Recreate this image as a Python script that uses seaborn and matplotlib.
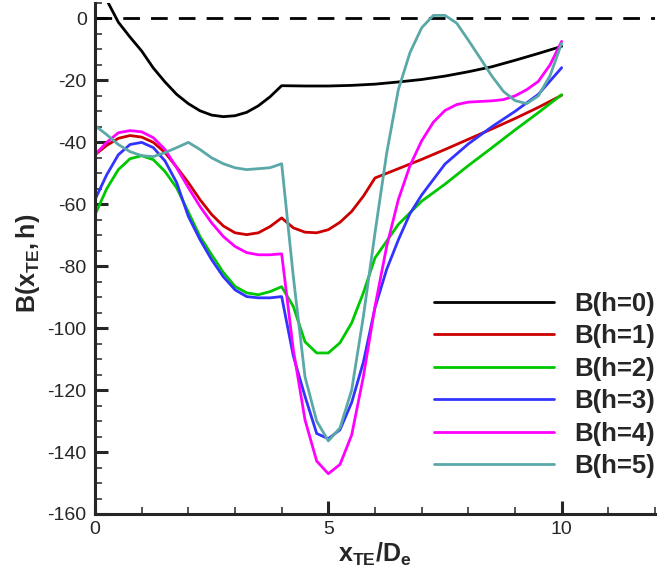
import numpy as np
import pandas as pd
import matplotlib
matplotlib.use("Agg")
import matplotlib.pyplot as plt
from matplotlib.ticker import MultipleLocator
import seaborn as sns

# x positions (x_TE / D_e)
x_grid = [0, 0.25, 0.5, 0.75, 1.0, 1.25, 1.5, 1.75, 2.0, 2.25, 2.5, 2.75, 3.0,
          3.25, 3.5, 3.75, 4.0]
x_near = [4.25, 4.5, 4.75, 5.0, 5.25, 5.5, 5.75, 6.0]

x_h0 = x_grid + [4.5, 5.0, 5.5, 6.0, 6.5, 7.0, 7.5, 8.0, 8.5, 9.0, 9.5, 10.0]
b_h0 = [15, 6, -1.2, -6, -10.5, -16, -20.5, -24.5, -27.5, -29.8, -31.2, -31.7,
        -31.4, -30.3, -28.2, -25.3, -21.7,
        -21.8, -21.8, -21.6, -21.2, -20.5, -19.7, -18.6, -17.2, -15.6, -13.5,
        -11.3, -9.0]

x_h1 = x_grid + x_near + [6.5, 7.0, 7.5, 8.0, 8.5, 9.0, 9.5, 10.0]
b_h1 = [-44, -41, -38.7, -37.8, -38.3, -40, -43.3, -48, -53, -58.5, -63.3, -67,
        -69.2, -69.8, -69.2, -67.2, -64.4,
        -67.6, -69, -69.2, -68.2, -65.8, -62.3, -57.4, -51.5,
        -48.5, -45.5, -42.3, -39, -35.7, -32.3, -28.7, -24.8]

x_h2 = x_grid + x_near + [6.5, 7.0, 7.5, 8.0, 8.5, 9.0, 9.5, 10.0]
b_h2 = [-63.4, -55, -48.8, -45.3, -44.3, -45.6, -49.4, -54.7, -62.5, -70.4,
        -76.3, -82, -86.5, -88.6, -89.2, -88.2, -86.6,
        -93, -104.4, -108, -108, -104.7, -98.3, -88.6, -77.3,
        -66.5, -59, -53.5, -47.5, -41.8, -36, -30.4, -24.6]

x_h3 = x_grid + x_near + [6.25, 6.5, 6.75, 7.0, 7.5, 8.0, 8.5, 9.0, 9.5, 10.0]
b_h3 = [-58.5, -50.5, -44, -40.7, -40, -41.7, -46, -53, -63.9, -71.4, -77.9,
        -83.4, -87.6, -89.8, -90.2, -90.2, -89.8,
        -109, -122, -134, -135.7, -132.8, -124, -111, -93.4,
        -81, -71.5, -63, -57, -47, -40.5, -35, -30, -24.5, -15.9]

x_h4 = x_grid + x_near + [6.25, 6.5, 6.75, 7.0, 7.25, 7.5, 7.75, 8.0, 8.5,
                          8.75, 9.0, 9.25, 9.5, 9.75, 10.0]
b_h4 = [-44, -40, -36.9, -36.2, -36.6, -38.5, -42.3, -48.2, -54.6, -60.7, -66,
        -70.4, -73.6, -75.6, -76.3, -76.3, -76,
        -107, -129.6, -142.9, -147, -144, -134.5, -115.7, -93,
        -73.6, -58.5, -47.5, -39.5, -33.5, -29.7, -27.8, -27, -26.6,
        -26.2, -25, -23, -20.3, -15, -7.4]

x_h5 = x_grid + x_near + [6.25, 6.5, 6.75, 7.0, 7.25, 7.5, 7.75, 8.0, 8.25,
                          8.5, 8.75, 9.0, 9.25, 9.5, 9.75, 10.0]
b_h5 = [-34.6, -37.5, -40.7, -43, -44.3, -44.6, -43.3, -41.7, -40, -42.3, -45,
        -46.9, -48.2, -48.8, -48.5, -48.2, -46.9,
        -83.4, -115.7, -130, -136.4, -132.2, -120, -96.3, -69.2,
        -43.5, -23, -11, -3, 1, 1, -1.5, -7, -12.7, -18.5, -23.5, -26.5,
        -27.5, -25, -18.5, -8]

labels = ["B(h=0)", "B(h=1)", "B(h=2)", "B(h=3)", "B(h=4)", "B(h=5)"]
colors = ["#000000", "#cc0000", "#00c800", "#3333ff", "#ff00ff", "#5aa8a8"]

xs = [x_h0, x_h1, x_h2, x_h3, x_h4, x_h5]
bs = [b_h0, b_h1, b_h2, b_h3, b_h4, b_h5]
frames = [pd.DataFrame({"x": x, "B": b, "series": lab})
          for x, b, lab in zip(xs, bs, labels)]
df = pd.concat(frames, ignore_index=True)

sns.set_style("ticks")
plt.rcParams["font.family"] = ["Liberation Sans", "DejaVu Sans"]
plt.rcParams["axes.unicode_minus"] = False
# all math text (axis labels only) drawn in bold Liberation Sans
plt.rcParams["mathtext.fontset"] = "custom"
plt.rcParams["mathtext.rm"] = "Liberation Sans:bold"
plt.rcParams["mathtext.it"] = "Liberation Sans:bold"
plt.rcParams["mathtext.bf"] = "Liberation Sans:bold"

fig = plt.figure(figsize=(6.57, 5.75), dpi=100)
ax = fig.add_axes([95 / 657, 1 - 514 / 575, 560 / 657, 511 / 575])

sns.lineplot(data=df, x="x", y="B", hue="series", palette=colors,
             estimator=None, sort=False, linewidth=2.0, ax=ax)

ax.axhline(0, color="black", lw=2.0, ls=(0, (6, 4)), zorder=1)

ax.set_xlim(0, 12)
ax.set_ylim(-160, 5)
ax.xaxis.set_major_locator(MultipleLocator(5))
ax.xaxis.set_minor_locator(MultipleLocator(1))
ax.yaxis.set_major_locator(MultipleLocator(20))
ax.yaxis.set_minor_locator(MultipleLocator(5))
ax.set_xticks([0, 5, 10])
ax.set_xticklabels(["0", "5", "10"])

ax.tick_params(which="major", direction="in", length=9.5, width=2.2,
               labelsize=14, pad=5)
ax.tick_params(which="minor", direction="in", length=5, width=1.1)
ax.tick_params(axis="y", which="major", pad=6)

sns.despine(ax=ax)
for s in ["left", "bottom"]:
    ax.spines[s].set_linewidth(2.2)

ax.set_xlabel(r"$\mathbf{x_{TE}/D_e}$", fontsize=18, labelpad=2)
ax.set_ylabel(r"$\mathbf{B(x_{TE},h)}$", fontsize=18)
ax.yaxis.set_label_coords(-0.095, 0.49)

handles, labs = ax.get_legend_handles_labels()
leg = ax.legend(handles, labs, loc="upper left",
                bbox_to_anchor=(434 / 657, 1 - 292 / 575),
                bbox_transform=fig.transFigure, frameon=False,
                prop={"weight": "bold", "size": 18.5}, handlelength=4.67,
                handletextpad=0.78, labelspacing=0.33, borderpad=0,
                borderaxespad=0)
for line in leg.get_lines():
    line.set_linewidth(2.0)

fig.savefig("out.png", dpi=100)
